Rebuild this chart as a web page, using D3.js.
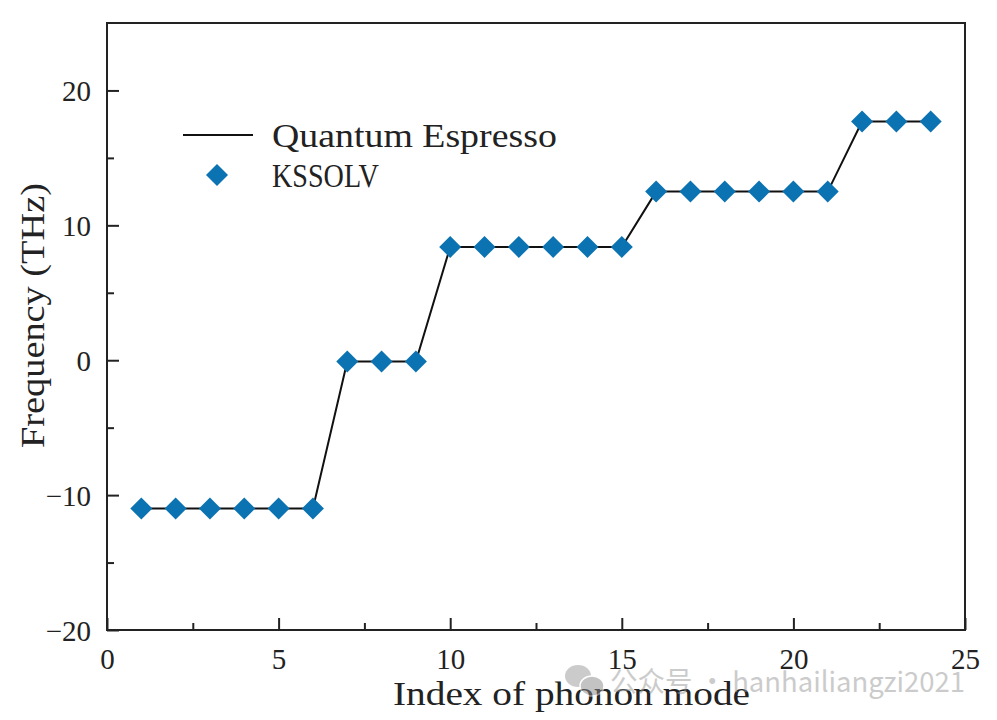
<!DOCTYPE html>
<html>
<head>
<meta charset="utf-8">
<script src="https://cdn.jsdelivr.net/npm/d3@7"></script>
<style>
  body { margin: 0; background: #fff; }
  svg { display: block; }
</style>
</head>
<body>
<svg width="997" height="720"></svg>
<script>
// phonon mode index and frequency (THz)
var modes = [1, 2, 3, 4, 5, 6, 7, 8, 9, 10, 11, 12, 13, 14, 15, 16, 17, 18, 19, 20, 21, 22, 23, 24];
var qeFreq = [-11.0, -11.0, -11.0, -11.0, -11.0, -11.0, -0.1, -0.1, -0.1,
              8.4, 8.4, 8.4, 8.4, 8.4, 8.4, 12.5, 12.5, 12.5, 12.5, 12.5, 12.5, 17.7, 17.7, 17.7];
var kssolvFreq = [-11.0, -11.0, -11.0, -11.0, -11.0, -11.0, -0.1, -0.1, -0.1,
              8.4, 8.4, 8.4, 8.4, 8.4, 8.4, 12.5, 12.5, 12.5, 12.5, 12.5, 12.5, 17.7, 17.7, 17.7];
var xTicks = [0, 5, 10, 15, 20, 25];
var yTicks = [-20, -10, 0, 10, 20];
var seriesNames = ["Quantum Espresso", "KSSOLV"];

var svg = d3.select("svg"),
    margin = { top: 23, right: 32, bottom: 90, left: 107 },
    width = 997 - margin.left - margin.right,
    height = 720 - margin.top - margin.bottom,
    g = svg.append("g").attr("transform", "translate(" + margin.left + "," + margin.top + ")");

var blue = "#0b73b1",
    axisColor = "#222",
    serif = "'Liberation Serif', 'Times New Roman', serif";

var x = d3.scaleLinear().domain([0, 25]).range([0, width]);
var y = d3.scaleLinear().domain([-20, 25]).range([height, 0]);

// frame
g.append("rect")
    .attr("width", width)
    .attr("height", height)
    .attr("fill", "none")
    .attr("stroke", axisColor)
    .attr("stroke-width", 2);

// inward ticks
var xAxis = g.append("g")
    .attr("transform", "translate(0," + height + ")")
    .call(d3.axisBottom(x).tickValues(xTicks).tickSize(-12).tickPadding(18).tickFormat(d3.format("d")));
var xMinor = g.append("g")
    .attr("transform", "translate(0," + height + ")")
    .call(d3.axisBottom(x).tickValues(d3.range(2.5, 25, 5)).tickSize(-7).tickFormat(""));
var yAxis = g.append("g")
    .call(d3.axisLeft(y).tickValues(yTicks).tickSize(-12).tickPadding(16).tickFormat(d => d < 0 ? "\u2212" + Math.abs(d) : d));
var yMinor = g.append("g")
    .call(d3.axisLeft(y).tickValues([-15, -5, 5, 15]).tickSize(-7).tickFormat(""));

[xAxis, xMinor, yAxis, yMinor].forEach(function (a) {
    a.select(".domain").remove();
    a.selectAll(".tick line").attr("stroke", axisColor).attr("stroke-width", 2);
    a.selectAll("text")
        .attr("fill", "#222")
        .style("font-family", serif)
        .style("font-size", "29px");
});
xAxis.selectAll("text").attr("dy", "0.71em");
yAxis.selectAll("text").attr("dy", "0.35em");

// QE line
var line = d3.line()
    .x((d, i) => x(modes[i]))
    .y(d => y(d));

g.append("path")
    .datum(qeFreq)
    .attr("fill", "none")
    .attr("stroke", "#111")
    .attr("stroke-width", 2)
    .attr("d", line);

// KSSOLV diamonds
var diamond = d3.symbol().type(d3.symbolSquare).size(242);
g.append("g")
    .selectAll("path")
    .data(kssolvFreq)
    .enter().append("path")
    .attr("d", diamond)
    .attr("fill", blue)
    .attr("transform", (d, i) => "translate(" + x(modes[i]) + "," + y(d) + ") rotate(45)");

// legend
var legend = svg.append("g");
legend.append("line")
    .attr("x1", 183).attr("x2", 253)
    .attr("y1", 135).attr("y2", 135)
    .attr("stroke", "#111")
    .attr("stroke-width", 2);
legend.append("path")
    .attr("d", diamond)
    .attr("fill", blue)
    .attr("transform", "translate(217,175) rotate(45)");
legend.selectAll("text")
    .data(seriesNames)
    .enter().append("text")
    .attr("x", 272)
    .attr("y", (d, i) => 147 + i * 40)
    .attr("textLength", d => d.length * 17.8)
    .attr("lengthAdjust", "spacingAndGlyphs")
    .attr("fill", "#222")
    .style("font-family", serif)
    .style("font-size", "33px")
    .text(d => d);

// axis titles
svg.append("text")
    .attr("x", 393)
    .attr("y", 705)
    .attr("textLength", 357)
    .attr("lengthAdjust", "spacingAndGlyphs")
    .attr("fill", "#222")
    .style("font-family", serif)
    .style("font-size", "33px")
    .text("Index of phonon mode");

svg.append("text")
    .attr("transform", "translate(44,448) rotate(-90)")
    .attr("textLength", 265)
    .attr("lengthAdjust", "spacingAndGlyphs")
    .attr("fill", "#222")
    .style("font-family", serif)
    .style("font-size", "33px")
    .text("Frequency (THz)");

// watermark
var wm = svg.append("g").attr("opacity", 0.5);
wm.append("ellipse").attr("cx", 578).attr("cy", 676).attr("rx", 13).attr("ry", 11).attr("fill", "#999");
wm.append("ellipse").attr("cx", 592).attr("cy", 686).attr("rx", 12).attr("ry", 10).attr("fill", "#888")
    .attr("stroke", "#fff").attr("stroke-width", 1.5);
wm.append("text")
    .attr("x", 610)
    .attr("y", 692)
    .attr("textLength", 355)
    .attr("lengthAdjust", "spacingAndGlyphs")
    .attr("fill", "#999")
    .style("font-family", "'Noto Sans CJK SC', 'Noto Sans', sans-serif")
    .style("font-size", "28px")
    .text("公众号 · hanhailiangzi2021");
</script>
</body>
</html>
